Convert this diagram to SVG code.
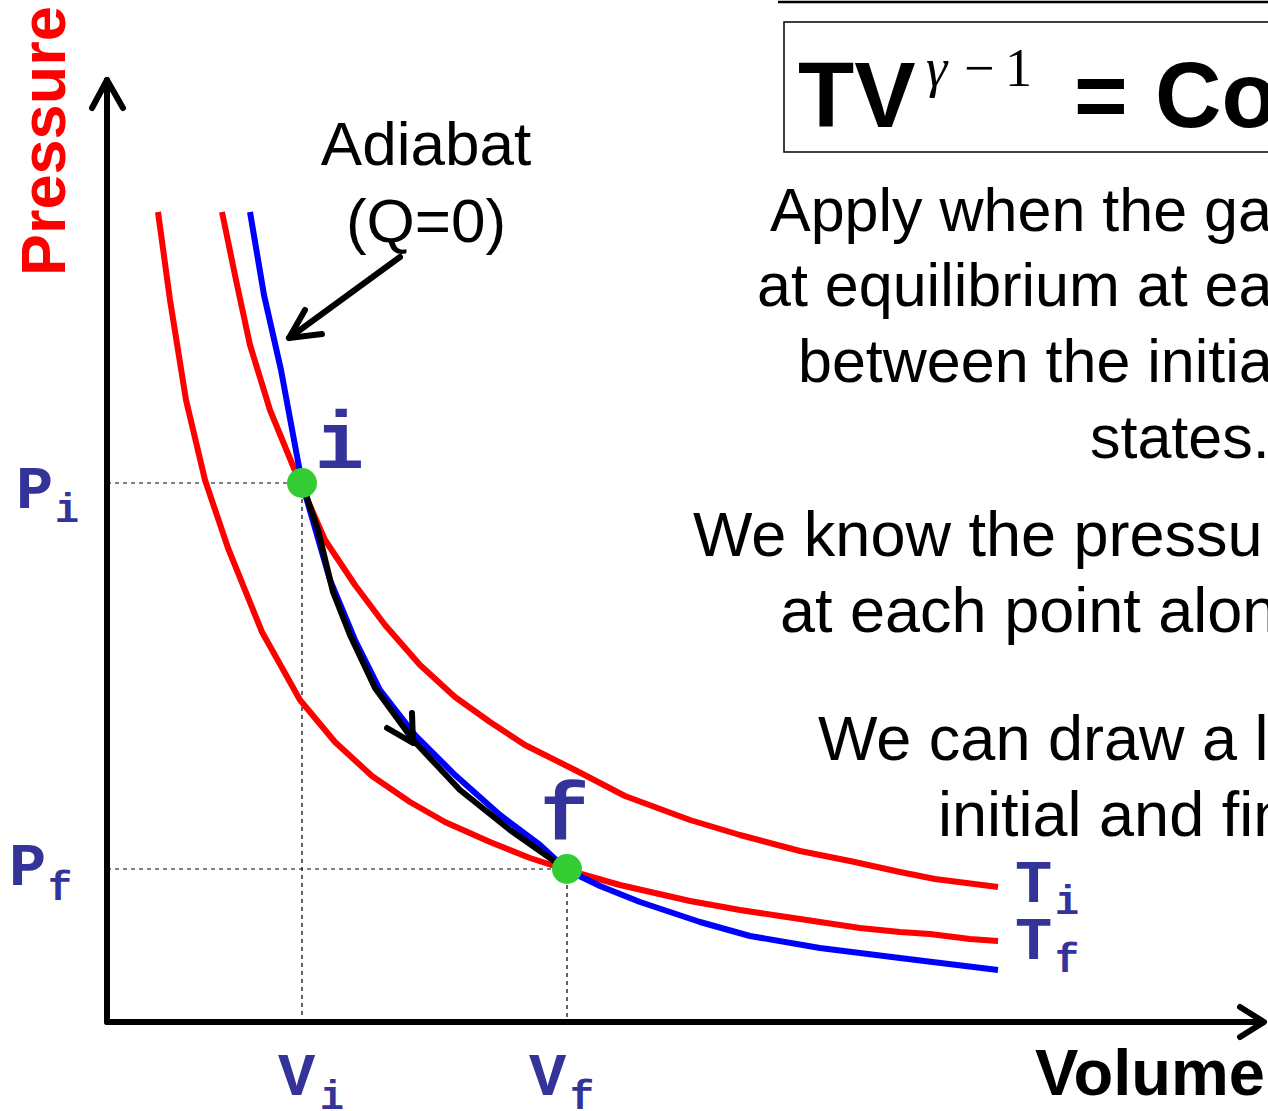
<svg xmlns="http://www.w3.org/2000/svg" width="1268" height="1111" viewBox="0 0 1268 1111">
<style>
.lbl{font-family:"Liberation Mono","Courier New",monospace;font-weight:bold;fill:#333399}
.txt{font-family:"Liberation Sans",Arial,sans-serif;font-size:61px;fill:#000}
.txt2{font-size:63px}
.iso{fill:none;stroke:#ff0000;stroke-width:6;stroke-linejoin:round}
.dash{fill:none;stroke:#000;stroke-width:1.2;stroke-dasharray:4 4}
.ax{fill:none;stroke:#000;stroke-width:6;stroke-linecap:round;stroke-linejoin:round}
.dot{fill:#33cc33}
</style>
<rect width="1268" height="1111" fill="#fff"/>
<g id="header">
<line x1="778" y1="2" x2="1268" y2="2" stroke="#000" stroke-width="2.5"/>
<rect x="784" y="22" width="500" height="130" fill="none" stroke="#000" stroke-width="1.5"/>
<text x="798" y="127" font-family="Liberation Sans,Arial,sans-serif" font-weight="bold" font-size="92">TV</text>
<text x="926" y="86" font-family="Liberation Serif,serif" font-style="italic" font-size="54">γ</text>
<text x="964" y="86" font-family="Liberation Serif,serif" font-size="54">−</text>
<text x="1005" y="86" font-family="Liberation Serif,serif" font-size="54">1</text>
<text x="1074" y="127" font-family="Liberation Sans,Arial,sans-serif" font-weight="bold" font-size="92">=</text>
<text x="1155" y="127" font-family="Liberation Sans,Arial,sans-serif" font-weight="bold" font-size="92">Co</text>
</g>
<g id="notes" class="txt">
<text x="770" y="231">Apply when the ga</text>
<text x="757" y="306">at equilibrium at ea</text>
<text x="798" y="382">between the initia</text>
<text x="1090" y="458">states.</text>
<text class="txt2" x="693" y="556">We know the pressu</text>
<text class="txt2" x="780" y="632">at each point alon</text>
<text class="txt2" x="818" y="760">We can draw a l</text>
<text class="txt2" x="938" y="836">initial and fin</text>
</g>
<g id="axes">
<polyline class="ax" points="107,1022 107,80"/>
<polyline class="ax" points="92,108 107,80 123,108"/>
<polyline class="ax" points="107,1022 1262,1022"/>
<polyline class="ax" points="1240,1007 1264,1022 1240,1037"/>
<text transform="translate(65,276) rotate(-90)" font-family="Liberation Sans,Arial,sans-serif" font-weight="bold" font-size="63" fill="#ff0000">Pressure</text>
<text x="1035" y="1095" font-family="Liberation Sans,Arial,sans-serif" font-weight="bold" font-size="65" fill="#000">Volume</text>
</g>
<g id="guides">
<line class="dash" x1="107" y1="483" x2="302" y2="483"/>
<line class="dash" x1="302" y1="483" x2="302" y2="1022"/>
<line class="dash" x1="107" y1="869" x2="567" y2="869"/>
<line class="dash" x1="567" y1="869" x2="567" y2="1022"/>
</g>
<g id="curves">
<polyline id="isotherm-Tf" class="iso" points="158,212 170,300 186,400 205,480 228,548 262,632 300,700 335,742 372,776 410,802 445,822 490,842 530,858 567,870 620,885 690,901 740,910 780,916 820,922 860,928 900,932 930,934 970,939 998,941"/>
<polyline id="isotherm-Ti" class="iso" points="222,212 236,280 250,345 270,410 300,483 325,540 355,585 385,625 420,665 455,697 490,722 525,745 575,770 625,796 690,820 740,835 800,851 850,861 900,872 935,879 998,887"/>
<polyline id="adiabat" fill="none" stroke="#0000ff" stroke-width="6" stroke-linejoin="round" points="250,212 264,295 281,370 302,483 330,580 355,640 380,690 415,735 455,775 500,815 540,845 567,870 600,886 640,902 700,922 750,936 820,948 900,958 998,970"/>
</g>
<g id="connectors">
<polyline class="ax" points="400,257 289,338"/>
<polyline class="ax" points="305,310 289,338 322,334"/>
<polyline class="ax" points="302,483 318,530 333,592 350,635 375,688 413,740 460,790 510,830 567,870"/>
<polyline class="ax" points="387,728 413,743 412,713"/>
</g>
<g id="node-i">
<circle class="dot" cx="302" cy="483" r="15"/>
<text class="lbl" x="315" y="468" font-size="82">i</text>
</g>
<g id="node-f">
<circle class="dot" cx="567" cy="869" r="15"/>
<text class="lbl" x="540" y="840" font-size="82">f</text>
</g>
<g id="labels">
<text x="426" y="165" text-anchor="middle" font-family="Liberation Sans,Arial,sans-serif" font-size="62">Adiabat</text>
<text x="426" y="242" text-anchor="middle" font-family="Liberation Sans,Arial,sans-serif" font-size="62">(Q=0)</text>
<text class="lbl" x="16" y="508" font-size="62">P</text><text class="lbl" x="55" y="522" font-size="40">i</text>
<text class="lbl" x="9" y="885" font-size="62">P</text><text class="lbl" x="48" y="900" font-size="40">f</text>
<text class="lbl" x="278" y="1095" font-size="62">V</text><text class="lbl" x="320" y="1109" font-size="40">i</text>
<text class="lbl" x="529" y="1095" font-size="62">V</text><text class="lbl" x="570" y="1109" font-size="40">f</text>
<text class="lbl" x="1015" y="902" font-size="62">T</text><text class="lbl" x="1055" y="914" font-size="40">i</text>
<text class="lbl" x="1015" y="959" font-size="62">T</text><text class="lbl" x="1055" y="972" font-size="40">f</text>
</g>
</svg>
